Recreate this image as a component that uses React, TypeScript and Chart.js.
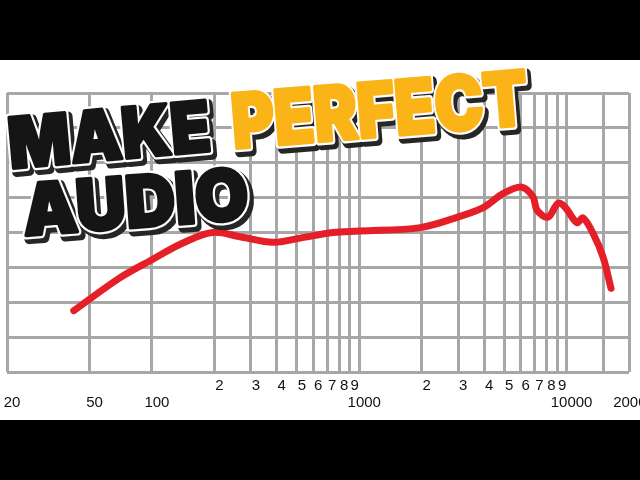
import React, { useEffect, useRef } from "react";
import { Chart, registerables } from "chart.js";

Chart.register(...registerables);

// Frequency response (Hz) and level (dB)
const FREQS = [42, 70, 100, 141, 196, 266, 384, 518, 747, 1000, 1970, 2980, 3980, 4960, 6080, 6890, 7200, 8130, 9100, 9820, 11230, 12000, 13400, 14980, 16380];
const LEVELS = [-11.2, -6.5, -3.9, -1.5, 0.0, -0.6, -1.4, -0.8, 0.0, 0.2, 0.7, 2.2, 3.6, 5.6, 6.5, 5.1, 3.2, 2.2, 4.2, 3.65, 1.4, 2.1, -0.1, -3.5, -8.0];

// Grid ticks on the frequency axis
const X_TICKS = [20, 50, 100, 200, 300, 400, 500, 600, 700, 800, 900, 1000, 2000, 3000, 4000, 5000, 6000, 7000, 8000, 9000, 10000, 15000, 20000];
const X_LABELS_TOP = ["", "", "", "2", "3", "4", "5", "6", "7", "8", "9", "", "2", "3", "4", "5", "6", "7", "8", "9", "", "", ""];
const X_LABELS_BOTTOM = ["20", "50", "100", "", "", "", "", "", "", "", "", "1000", "", "", "", "", "", "", "", "", "10000", "", "20000"];

const TITLE_WORDS = ["MAKE", "PERFECT", "AUDIO"];

const GRID = "#a7a7a7";
const RED = "#e41f28";
const ORANGE = "#fbb417";
const INK = "#151515";

function drawWord(ctx: CanvasRenderingContext2D, word: string, x: number, y: number, angleDeg: number, width: number, cap: number, fill: string) {
  const family = '900 100px Inter, Lato, "DejaVu Sans", sans-serif';
  ctx.save();
  ctx.font = family;
  const capRatio = ctx.measureText("H").actualBoundingBoxAscent / 100 || 0.727;
  const size = (cap - 3) / capRatio;
  ctx.font = `900 ${size}px Inter, Lato, "DejaVu Sans", sans-serif`;
  const m = ctx.measureText(word);
  const inkW = m.actualBoundingBoxLeft + m.actualBoundingBoxRight;
  ctx.translate(x, y - 1.5);
  ctx.rotate((angleDeg * Math.PI) / 180);
  ctx.scale((width - 3) / inkW, 1);
  ctx.translate(m.actualBoundingBoxLeft + 1.5, 0);
  ctx.textBaseline = "alphabetic";
  ctx.lineJoin = "round";
  // shadow
  ctx.fillStyle = "#262626";
  ctx.strokeStyle = "#262626";
  ctx.lineWidth = 10;
  ctx.strokeText(word, 3, 4);
  ctx.fillText(word, 3, 4);
  // white outline
  ctx.strokeStyle = "#ffffff";
  ctx.lineWidth = 8;
  ctx.strokeText(word, 0, 0);
  // heavy body
  ctx.strokeStyle = fill;
  ctx.lineWidth = 3.5;
  ctx.strokeText(word, 0, 0);
  ctx.fillStyle = fill;
  ctx.fillText(word, 0, 0);
  ctx.restore();
}

const backgroundPlugin = {
  id: "bg",
  beforeDraw(chart: any) {
    const ctx = chart.ctx;
    ctx.save();
    ctx.fillStyle = "#000";
    ctx.fillRect(0, 0, chart.width, chart.height);
    ctx.fillStyle = "#fff";
    ctx.fillRect(0, 60, chart.width, 360);
    ctx.restore();
  },
};

const titlePlugin = {
  id: "title-words",
  afterDraw(chart: any) {
    const ctx = chart.ctx;
    drawWord(ctx, TITLE_WORDS[0], 12, 170, -5.1, 200, 54, INK);
    drawWord(ctx, TITLE_WORDS[1], 235, 150, -4.7, 296, 58, ORANGE);
    drawWord(ctx, TITLE_WORDS[2], 24, 237, -4.2, 226, 55, INK);
  },
};

export default function App() {
  const ref = useRef<HTMLCanvasElement | null>(null);
  useEffect(() => {
    if (!ref.current) return;
    const chart = new Chart(ref.current, {
      type: "line",
      data: {
        datasets: [
          {
            data: FREQS.map((f, i) => ({ x: f, y: LEVELS[i] })),
            borderColor: RED,
            borderWidth: 7,
            borderCapStyle: "round",
            borderJoinStyle: "round",
            pointRadius: 0,
            tension: 0.35,
            fill: false,
          },
        ],
      },
      options: {
        animation: false,
        responsive: false,
        devicePixelRatio: 1,
        layout: { padding: { top: 93, left: 7, right: 11, bottom: 0 } },
        plugins: { legend: { display: false }, tooltip: { enabled: false }, title: { display: false } },
        scales: {
          x: {
            type: "logarithmic",
            min: 20,
            max: 20000,
            afterBuildTicks: (scale: any) => {
              scale.ticks = X_TICKS.map((v) => ({ value: v }));
            },
            afterFit: (scale: any) => {
              scale.height = 108;
              scale.paddingLeft = 0;
              scale.paddingRight = 0;
            },
            grid: { color: GRID, lineWidth: 3, drawTicks: false },
            border: { display: false },
            ticks: {
              autoSkip: false,
              maxRotation: 0,
              minRotation: 0,
              padding: 5,
              labelOffset: 5,
              color: "#111",
              font: { family: '"Liberation Sans", Arial, Helvetica, sans-serif', size: 15, lineHeight: "17px" },
              callback: (value: any) => {
                const i = X_TICKS.indexOf(Number(value));
                if (i < 0) return "";
                if (!X_LABELS_TOP[i] && !X_LABELS_BOTTOM[i]) return "";
                return [X_LABELS_TOP[i], X_LABELS_BOTTOM[i]];
              },
            },
          },
          y: {
            type: "linear",
            min: -20,
            max: 20,
            afterFit: (scale: any) => {
              scale.width = 0;
              scale.paddingTop = 0;
              scale.paddingBottom = 0;
            },
            grid: { color: GRID, lineWidth: 3, drawTicks: false },
            border: { display: false },
            ticks: { display: false, stepSize: 5 },
          },
        },
      },
      plugins: [backgroundPlugin, titlePlugin],
    } as any);
    return () => chart.destroy();
  }, []);
  return (
    <canvas
      ref={ref}
      width={640}
      height={480}
      style={{ position: "fixed", left: 0, top: 0, width: 640, height: 480, display: "block" }}
    />
  );
}
